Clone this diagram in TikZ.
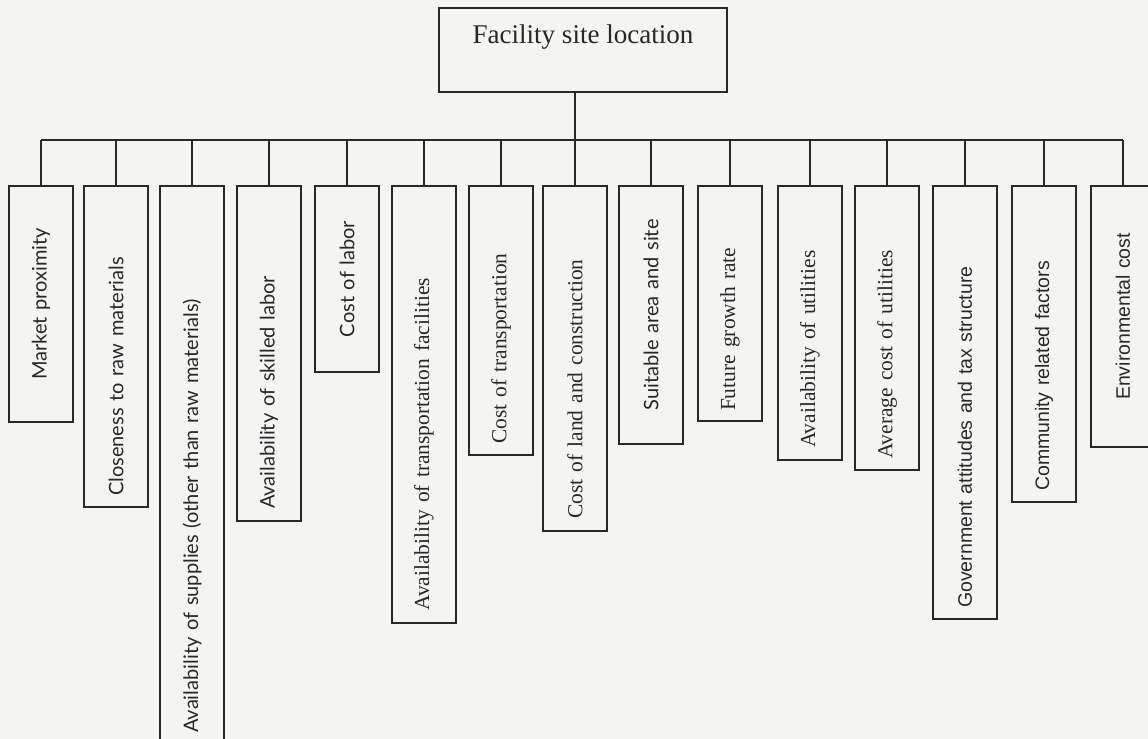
\documentclass[tikz,border=0pt]{standalone}
\usepackage{fontspec}
\setmainfont{Liberation Serif}
\newfontfamily\humanistfont{Lato}
\newfontfamily\groteskfont{Liberation Sans}
\usepackage{tikz}
\usetikzlibrary{positioning}
\definecolor{inkgray}{RGB}{40, 40, 40}
\definecolor{paper}{RGB}{244, 244, 243}

\tikzset{
  ink/.style={draw=inkgray, line width=1.1pt},
  factor/.style={ink, rotate=90, anchor=east, minimum height=1.28cm, inner ysep=0pt, align=left, text=inkgray},
  serif/.style={font=\fontsize{12.2}{14}\selectfont},
  humanist/.style={font=\humanistfont\fontsize{11.4}{13}\selectfont},
  grotesk/.style={font=\groteskfont\fontsize{11.1}{13}\selectfont},
}

\begin{document}
\begin{tikzpicture}[x=0.02cm, y=-0.02cm]
  % Page
  \useasboundingbox (0, 0) rectangle (1148, 739);
  \clip (0, 0) rectangle (1148, 739);
  \fill[paper] (0, 0) rectangle (1148, 739);

  % Root
  \node[ink, anchor=north, minimum width=5.75cm, inner ysep=0pt, text height=0.72cm, text depth=0.97cm,
    text=inkgray, font=\fontsize{15.4}{18}\selectfont] (site) at (583, 7) {Facility site location};
  \coordinate (bus) at (575, 140);

  % Factors
  \node[factor, humanist, align=center, inner xsep=0.16cm, text width=4.40cm] (market) at (41, 185) {Market proximity};
  \node[factor, humanist, inner xsep=0.22cm, text width=5.98cm] (rawmat) at (116, 185) {Closeness to raw materials};
  \node[factor, humanist, inner xsep=0.26cm, text width=10.68cm] (supplies) at (192, 185) {Availability of supplies (other than raw materials)};
  \node[factor, humanist, inner xsep=0.24cm, text width=6.22cm] (skilled) at (269, 185) {Availability of skilled labor};
  \node[factor, humanist, align=center, inner xsep=0.16cm, text width=3.40cm] (laborcost) at (347, 185) {Cost of labor};
  \node[factor, serif, inner xsep=0.24cm, text width=8.26cm] (transfac) at (424, 185) {Availability of transportation facilities};
  \node[factor, serif, inner xsep=0.22cm, text width=4.94cm] (transcost) at (501, 185) {Cost of transportation};
  \node[factor, serif, inner xsep=0.24cm, text width=6.42cm] (landcost) at (575, 185) {Cost of land and construction};
  \node[factor, humanist, align=center, inner xsep=0.16cm, text width=4.84cm] (area) at (651, 185) {Suitable area and site};
  \node[factor, serif, inner xsep=0.20cm, text width=4.30cm] (growth) at (730, 185) {Future growth rate};
  \node[factor, serif, inner xsep=0.24cm, text width=5.00cm] (utilities) at (810, 185) {Availability of utilities};
  \node[factor, serif, inner xsep=0.22cm, text width=5.24cm] (utilcost) at (887, 185) {Average cost of utilities};
  \node[factor, grotesk, inner xsep=0.22cm, text width=8.22cm] (govt) at (965, 185) {Government attitudes and tax structure};
  \node[factor, grotesk, inner xsep=0.22cm, text width=5.88cm] (community) at (1044, 185) {Community related factors};
  \node[factor, grotesk, align=center, inner xsep=0.16cm, text width=4.90cm] (environ) at (1123, 185) {Environmental cost};

  % Connectors
  \draw[ink] (bus) -- (bus |- site.south);
  \draw[ink] (market.east |- bus) -- (environ.east |- bus);
  \draw[ink]
    (market.east) -- (market.east |- bus)
    (rawmat.east) -- (rawmat.east |- bus)
    (supplies.east) -- (supplies.east |- bus)
    (skilled.east) -- (skilled.east |- bus)
    (laborcost.east) -- (laborcost.east |- bus)
    (transfac.east) -- (transfac.east |- bus)
    (transcost.east) -- (transcost.east |- bus)
    (landcost.east) -- (landcost.east |- bus)
    (area.east) -- (area.east |- bus)
    (growth.east) -- (growth.east |- bus)
    (utilities.east) -- (utilities.east |- bus)
    (utilcost.east) -- (utilcost.east |- bus)
    (govt.east) -- (govt.east |- bus)
    (community.east) -- (community.east |- bus)
    (environ.east) -- (environ.east |- bus);
\end{tikzpicture}
\end{document}
